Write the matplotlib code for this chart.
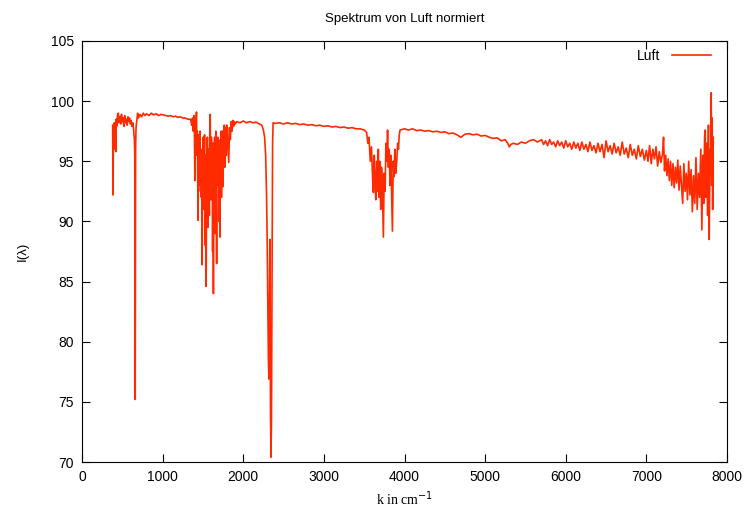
import numpy as np
import matplotlib
matplotlib.use("Agg")
import matplotlib.pyplot as plt

# start of spectrum up to the water band (incl. CO2 bending line ~660)
k_low = [380, 385, 390, 395, 400, 410, 420, 425, 430, 440,
         450, 460, 470, 480, 490, 500, 510, 520, 530, 540,
         550, 560, 570, 580, 590, 600, 610, 620, 630, 640,
         650, 655, 660, 665, 670, 680, 690, 700, 720, 740,
         760, 780, 800, 830, 860, 890, 920, 950, 980, 1010,
         1040, 1070, 1100, 1130, 1160, 1190, 1220, 1250, 1280, 1310,
         1340]
I_low = [98.0, 92.2, 97.5, 96.0, 98.2, 97.8, 95.8, 98.5, 97.9, 98.8,
         99.0, 98.2, 98.7, 98.1, 98.9, 98.3, 98.6, 97.9, 98.8, 98.2,
         98.5, 98.0, 98.7, 98.3, 98.6, 98.1, 98.4, 97.9, 98.2, 97.6,
         96.8, 95.5, 75.2, 96.0, 97.8, 98.4, 99.0, 98.6, 98.9, 98.7,
         99.0, 98.8, 98.95, 98.8, 99.0, 98.85, 98.95, 98.8, 98.9, 98.85,
         98.8, 98.75, 98.8, 98.7, 98.75, 98.65, 98.7, 98.6, 98.6, 98.5,
         98.5]

# water bending band
k_water = [1350, 1360, 1370, 1380,
           1390, 1395, 1400, 1405, 1410, 1415, 1420, 1425, 1430, 1435,
           1440, 1445, 1450, 1455, 1460, 1465, 1470, 1475, 1480, 1485,
           1490, 1495, 1500, 1505, 1510, 1515, 1520, 1525, 1530, 1535,
           1540, 1545, 1550, 1555, 1560, 1565, 1570, 1575, 1580, 1585,
           1590, 1595, 1600, 1605, 1610, 1615, 1620, 1625, 1630, 1635,
           1640, 1645, 1650, 1655, 1660, 1665, 1670, 1675, 1680, 1685,
           1690, 1695, 1700, 1705, 1710, 1715, 1720, 1725, 1730, 1735,
           1740, 1745, 1750, 1755, 1760, 1765, 1770, 1775, 1780, 1785,
           1790, 1795, 1800,
           1810, 1820, 1830, 1840, 1850, 1860, 1870, 1880, 1890, 1900]
I_water = [98.4, 98.0, 98.6, 97.5,
           98.8, 97.0, 93.4, 98.0, 96.0, 98.5, 99.1, 95.5, 97.5, 94.0,
           90.1, 97.2, 93.0, 96.8, 93.5, 97.5, 92.5, 96.0, 92.0, 95.5,
           86.4, 96.0, 93.0, 97.0, 91.0, 95.0, 97.2, 92.0, 88.0, 95.5,
           84.6, 94.0, 93.0, 97.0, 89.5, 94.5, 96.0, 92.5, 90.5, 97.5,
           98.9, 94.5, 91.8, 97.0, 93.5, 96.5, 87.5, 95.0, 84.0, 96.5,
           92.0, 97.0, 89.0, 95.0, 97.5, 92.5, 86.5, 96.0, 93.0, 97.0,
           94.0, 96.8, 90.0, 95.5, 88.7, 96.5, 93.5, 97.5, 92.0, 96.5,
           97.5, 94.5, 92.9, 97.5, 96.0, 98.0, 94.5, 97.5, 97.8, 96.2,
           95.5, 98.0, 98.0,
           96.5, 94.9, 97.8, 96.8, 98.3, 97.5, 98.4, 97.9, 98.3, 98.1]

# CO2 stretching band
k_co2 = [1920, 1960, 2000, 2040, 2080, 2120, 2160, 2200, 2230, 2250,
         2265, 2278, 2288, 2296, 2304, 2312, 2318, 2324, 2330, 2334,
         2338, 2344, 2350, 2355, 2360, 2364, 2370]
I_co2 = [98.3, 98.2, 98.35, 98.2, 98.3, 98.2, 98.25, 98.1, 98.0, 97.6,
         97.0, 95.5, 92.5, 89.0, 84.0, 78.5, 76.9, 82.0, 88.5, 80.0,
         74.0, 70.4, 73.5, 81.0, 90.0, 96.5, 98.2]

# flat part between the bands
k_mid = [2400, 2450, 2500, 2550, 2600, 2650, 2700, 2750, 2800, 2850,
         2900, 2950, 3000, 3050, 3100, 3150, 3200, 3250, 3300, 3350,
         3400, 3450, 3500]
I_mid = [98.15, 98.2, 98.1, 98.2, 98.1, 98.15, 98.05, 98.1, 98.0, 98.05,
         97.95, 98.0, 97.9, 97.95, 97.85, 97.9, 97.8, 97.85, 97.75, 97.8,
         97.7, 97.7, 97.6]

# water stretching band
k_h2o = [3530, 3545, 3560, 3575, 3590, 3605, 3614, 3625, 3635, 3644,
         3655, 3665, 3675, 3685, 3695, 3705, 3715, 3725, 3738, 3748,
         3759, 3770, 3780, 3790, 3800, 3810, 3820, 3830, 3840, 3850,
         3860, 3870, 3880, 3890, 3904, 3915, 3925, 3935, 3945]
I_h2o = [97.4, 96.5, 97.0, 95.0, 96.2, 93.5, 92.4, 95.5, 93.0, 91.8,
         95.0, 92.5, 96.0, 92.0, 95.0, 91.0, 94.5, 93.0, 88.7, 94.0,
         92.5, 96.5, 95.0, 97.6, 94.5, 96.0, 93.0, 95.5, 92.5, 89.2,
         95.0, 93.7, 96.0, 94.0, 95.0, 96.5, 96.0, 97.2, 97.6]

# slowly falling baseline
k_high = [4000, 4050, 4100, 4150, 4200, 4250, 4300, 4350, 4400, 4450,
          4500, 4550, 4600, 4650, 4700, 4750, 4800, 4850, 4900, 4950,
          5000, 5050, 5100, 5150, 5200, 5250, 5280, 5300, 5320, 5350,
          5400, 5450, 5500, 5550, 5600, 5650]
I_high = [97.7, 97.6, 97.7, 97.55, 97.6, 97.5, 97.55, 97.45, 97.5, 97.4,
          97.45, 97.3, 97.35, 97.2, 97.0, 97.25, 97.3, 97.2, 97.25, 97.1,
          97.15, 97.0, 96.9, 96.95, 96.7, 96.8, 96.5, 96.2, 96.4, 96.5,
          96.4, 96.6, 96.5, 96.7, 96.8, 96.6]

# noisier baseline towards the near infrared
k_nir = [5700, 5725, 5750, 5775, 5800, 5825, 5850, 5875, 5900, 5925,
         5950, 5975, 6000, 6025, 6050, 6075, 6100, 6125, 6150, 6175,
         6200, 6225, 6250, 6275, 6300, 6325, 6350, 6375, 6400, 6425,
         6450, 6475, 6500, 6525, 6550, 6575, 6600, 6625, 6650, 6675,
         6700, 6725, 6750, 6775, 6800, 6825, 6850, 6875, 6900, 6925,
         6950, 6975, 7000]
I_nir = [96.8, 96.4, 96.7, 96.3, 96.8, 96.4, 96.6, 96.2, 96.7, 96.3,
         96.6, 96.1, 96.7, 96.2, 96.5, 96.0, 96.6, 96.1, 96.5, 95.9,
         96.6, 96.0, 96.4, 95.8, 96.6, 95.9, 96.3, 95.7, 96.5, 95.8,
         96.4, 95.3, 96.7, 95.8, 96.3, 95.6, 96.5, 95.7, 96.2, 95.5,
         96.6, 95.6, 96.1, 95.3, 96.4, 95.5, 96.0, 95.2, 96.3, 95.4,
         96.0, 95.1, 95.9]

# noisy end of the spectrum
k_end = [7020, 7040, 7060, 7080, 7100, 7120, 7140, 7160, 7180, 7200,
         7213, 7225, 7240, 7255, 7270, 7285, 7300, 7315, 7330, 7345,
         7360, 7375, 7390, 7405, 7420, 7435, 7450, 7465, 7480, 7495,
         7510, 7525, 7540, 7555, 7570, 7585, 7600, 7615, 7630, 7645,
         7660, 7675, 7688, 7700, 7712, 7722, 7730, 7740, 7750, 7760,
         7770, 7779, 7790, 7798, 7804, 7810, 7816, 7822, 7830]
I_end = [95.0, 96.3, 94.8, 96.0, 95.2, 96.2, 94.6, 95.8, 94.9, 95.6,
         97.0, 94.2, 95.5, 93.8, 95.2, 93.4, 95.0, 93.0, 94.8, 92.8,
         94.5, 93.2, 95.1, 92.6, 94.6, 93.0, 91.5, 94.8, 92.5, 94.0,
         91.8, 95.0, 92.2, 94.3, 90.8, 93.8, 91.5, 95.3, 91.0, 94.0,
         92.0, 96.0, 89.3, 95.5, 91.5, 97.0, 97.6, 92.0, 96.5, 90.5,
         98.0, 88.5, 96.0, 94.0, 100.7, 93.0, 98.6, 91.0, 97.0]

k = np.concatenate([k_low, k_water, k_co2, k_mid, k_h2o, k_high, k_nir, k_end])
I = np.concatenate([I_low, I_water, I_co2, I_mid, I_h2o, I_high, I_nir, I_end])

plt.rcParams['font.family'] = ['Liberation Sans', 'DejaVu Sans']

fig = plt.figure(figsize=(7.49, 5.16), dpi=100)
ax = fig.add_axes([82 / 749, 54 / 516, 645 / 749, 421 / 516])

ax.plot(k, I, color='#ff2a00', lw=1.2, label='Luft')

ax.set_xlim(0, 8000)
ax.set_ylim(70, 105)
ax.set_xticks(np.arange(0, 8001, 1000))
ax.set_yticks(np.arange(70, 106, 5))
ax.tick_params(direction='in', length=6, top=True, right=True,
               labelsize=10, width=0.8, pad=6)
for s in ax.spines.values():
    s.set_linewidth(0.8)

ax.set_title("Spektrum von Luft normiert", fontsize=9.5, pad=14)
ax.set_xlabel("k in cm$^{-1}$", fontfamily='Liberation Serif', fontsize=10, labelpad=4)
ax.set_ylabel("I(λ)", fontsize=9.5, labelpad=16)

leg = ax.legend(loc='upper right', bbox_to_anchor=(0.979, 0.988), frameon=False,
                markerfirst=False, fontsize=10, handlelength=2.8,
                borderaxespad=0.0, borderpad=0.2)

fig.savefig("out.png", dpi=100)
